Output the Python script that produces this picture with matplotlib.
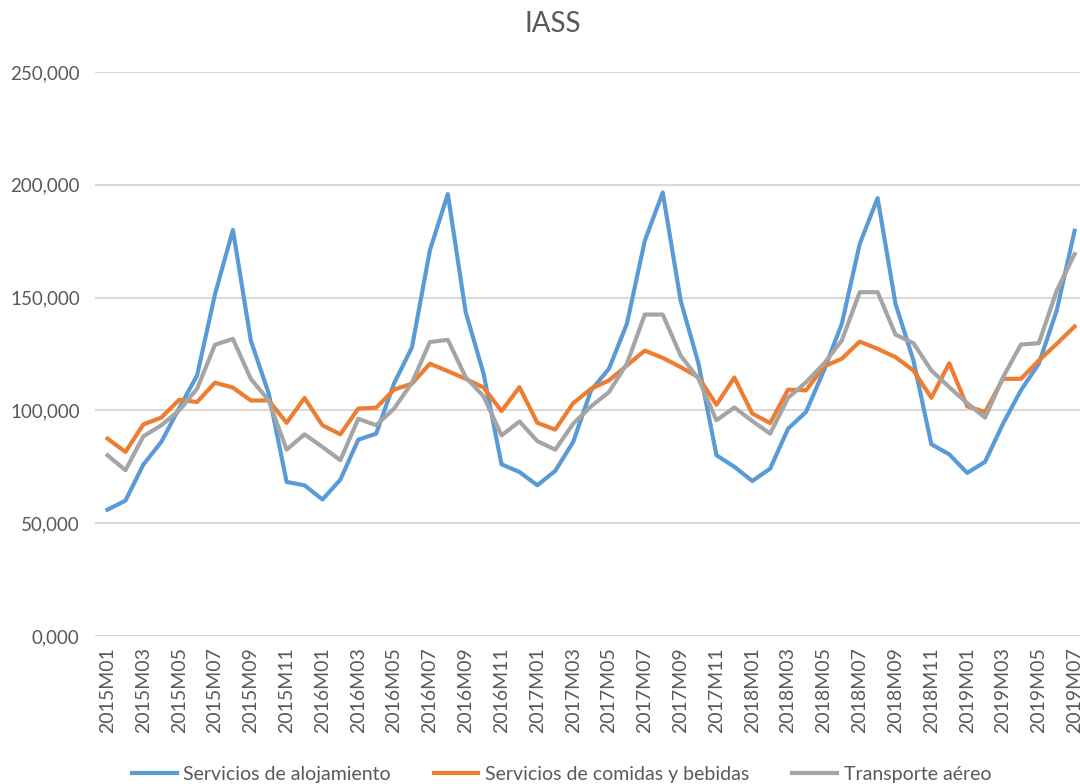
import matplotlib
matplotlib.use("Agg")
import matplotlib.pyplot as plt
import numpy as np

# monthly series 2015M01 .. 2019M07
years = [2015, 2016, 2017, 2018, 2019]
months = [f"{y}M{m:02d}" for y in years for m in range(1, 13)][:55]

alojamiento = [
    56000, 60000, 76000, 86000, 101000, 115500, 151500, 180000, 131000, 107500, 68300, 66800,
    60500, 69300, 87000, 89700, 112000, 128000, 171000, 195900, 143500, 116200, 76100, 72700,
    66800, 73200, 86000, 108900, 118500, 138400, 175200, 196600, 148700, 120700, 80100, 75000,
    68700, 74200, 91900, 99300, 117700, 138400, 173800, 194100, 147200, 122100, 85000, 80500,
    72300, 77200, 94100, 108900, 120700, 144300, 179600,
]
comidas = [
    87500, 81600, 93800, 96800, 104700, 103700, 112300, 110100, 104400, 104400, 94500, 105500,
    93400, 89400, 100800, 101200, 109200, 111900, 120700, 117400, 114000, 110100, 99700, 110300,
    94500, 91500, 103200, 109600, 113300, 119900, 126500, 123300, 119200, 114700, 102500, 114600,
    98600, 94400, 109200, 108900, 119500, 122900, 130500, 127300, 123600, 117700, 105600, 120900,
    101800, 99300, 114000, 114000, 122100, 129500, 137200,
]
aereo = [
    80100, 73500, 88500, 93400, 100000, 109600, 129100, 131700, 114000, 104400, 82600, 89400,
    83800, 77900, 96300, 93400, 100800, 112300, 130300, 131300, 114700, 106200, 88900, 95100,
    86400, 82600, 94100, 101800, 108100, 120700, 142500, 142500, 124300, 114000, 95600, 101300,
    95300, 89700, 105600, 112500, 120700, 131000, 152400, 152400, 133600, 129800, 117700, 110300,
    103200, 96800, 114700, 129200, 129800, 153100, 169300,
]

y_ticks = [0, 50000, 100000, 150000, 200000, 250000]
y_labels = ["0,000", "50,000", "100,000", "150,000", "200,000", "250,000"]

plt.rcParams["font.family"] = ["Lato", "DejaVu Sans"]
text_col = "#595959"

fig = plt.figure(figsize=(10.8, 7.84), dpi=100)
ax = fig.add_axes([95 / 1080, 148 / 784, 985 / 1080, 564 / 784])

x = np.arange(len(months))
ax.plot(x, alojamiento, color="#5B9BD5", lw=3, label="Servicios de alojamiento", clip_on=False)
ax.plot(x, comidas, color="#ED7D31", lw=3, label="Servicios de comidas y bebidas", clip_on=False)
ax.plot(x, aereo, color="#A5A5A5", lw=3, label="Transporte aéreo", clip_on=False)

ax.set_xlim(-0.7, 54.3)
ax.set_ylim(0, 250000)
ax.set_yticks(y_ticks)
ax.set_yticklabels(y_labels, fontsize=13.5, color=text_col)
ax.set_xticks(x[::2])
ax.set_xticklabels(months[::2], rotation=90, fontsize=14, color=text_col)
ax.tick_params(axis="y", length=0, pad=11)
ax.tick_params(axis="x", length=0, pad=8)

ax.grid(axis="y", color="#d9d9d9", lw=1.5)
ax.set_axisbelow(True)
for s in ax.spines.values():
    s.set_visible(False)

fig.text(0.512, 0.97, "IASS", ha="center", va="center", fontsize=20, color=text_col)

fig.legend(loc="center", bbox_to_anchor=(0.52, 0.012), ncol=3, frameon=False,
           fontsize=14, labelcolor=text_col, handlelength=2.3, columnspacing=2.2,
           handletextpad=0.35)

fig.savefig("out.png", dpi=100)
